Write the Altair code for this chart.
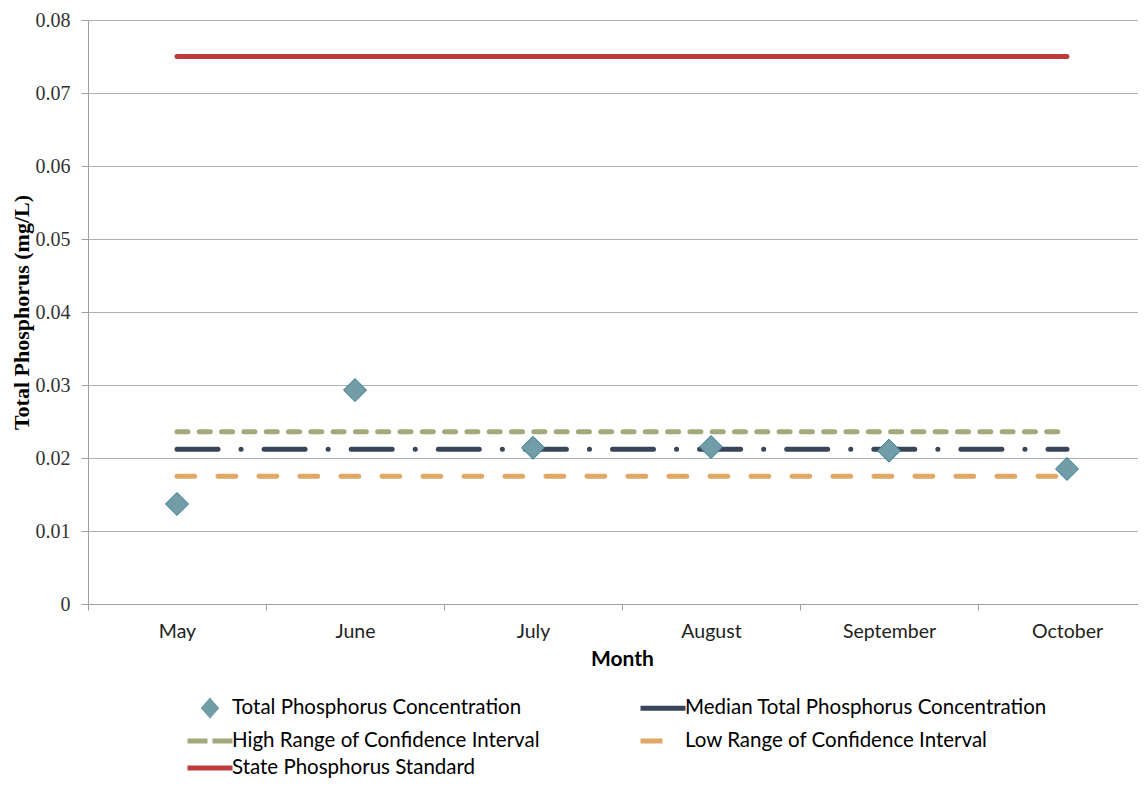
import altair as alt
import pandas as pd

# ---- data ----
months = ["May", "June", "July", "August", "September", "October"]
tp_values = [0.0137, 0.0293, 0.0214, 0.0215, 0.0210, 0.0185]
median_value = 0.0212
high_ci = 0.0236
low_ci = 0.0175
state_standard = 0.075
y_ticks = [0, 0.01, 0.02, 0.03, 0.04, 0.05, 0.06, 0.07, 0.08]

series_names = [
    "Total Phosphorus Concentration",
    "Median Total Phosphorus Concentration",
    "High Range of Confidence Interval",
    "Low Range of Confidence Interval",
    "State Phosphorus Standard",
]
series_colors = ["#729CA8", "#3A4657", "#A0AA7A", "#E0A766", "#BE3B3B"]
diamond_stroke = "#2F7D90"

line_levels = [state_standard, high_ci, low_ci, median_value]
line_series = [series_names[4], series_names[2], series_names[3], series_names[1]]
line_dashes = [[1, 0], [11, 11.3], [17.7, 23.3], [41, 23, 0.1, 23]]

rows = []
for name, level in zip(line_series, line_levels):
    for m in months:
        rows.append({"month": m, "value": level, "series": name})
lines_df = pd.DataFrame(rows)
points_df = pd.DataFrame({"month": months, "value": tp_values,
                          "series": [series_names[0]] * len(months)})


def choose(mapping, default):
    expr = default
    for k, v in mapping.items():
        expr = f"datum.value === '{k}' ? {v} : ({expr})"
    return expr


stroke_map = {series_names[0]: "'transparent'"}
for n, c in zip(series_names[1:], series_colors[1:]):
    stroke_map[n] = f"'{c}'"

diamond_path = "'M0,-0.54L0.48,0L0,0.54L-0.48,0Z'"
line_path = "'M-1.8,0L1.8,0'"
line_path_tall = "'M0,-0.54M0,0.54M-1.8,0L1.8,0'"

x_enc = alt.X(
    "month:N",
    sort=months,
    scale=alt.Scale(type="band", domain=months, paddingInner=0, paddingOuter=0,
                    range=[0, 1068]),
    axis=alt.Axis(
        title="Month", labelAngle=0, grid=False, tickBand="extent",
        tickSize=6, labelPadding=12, labelFont="Lato", labelFontSize=19.5,
        labelColor="#222222", titleFont="Lato", titleFontSize=21,
        titleFontWeight="bold", titleColor="#000000", titlePadding=8,
        domainColor="#A0A0A0", tickColor="#A0A0A0",
    ),
)
y_enc = alt.Y(
    "value:Q",
    scale=alt.Scale(domain=[0, 0.08], nice=False, zero=True),
    axis=alt.Axis(
        title="Total Phosphorus (mg/L)", values=y_ticks, format=".2~f",
        grid=True, gridColor="#B0B0B0", tickSize=7, labelPadding=11,
        labelFont="Liberation Serif", labelFontSize=20, labelColor="#333333",
        titleFont="Liberation Serif", titleFontSize=22, titleFontWeight="bold",
        titleColor="#000000", titlePadding=2,
        domainColor="#A0A0A0", tickColor="#A0A0A0",
    ),
)

color_enc = alt.Color(
    "series:N",
    scale=alt.Scale(domain=series_names, range=series_colors),
    legend=alt.Legend(
        title=None, orient="none", legendX=107, legendY=673, columns=2,
        direction="horizontal",
        columnPadding=90, rowPadding=1, symbolSize=625, symbolStrokeWidth=5,
        labelFont="Lato", labelFontSize=20.5, labelColor="#000000",
        labelOffset=7, labelLimit=0, symbolOpacity=1,
        symbolType={"expr": choose({series_names[0]: diamond_path,
                                    series_names[1]: line_path_tall}, line_path)},
        symbolFillColor={"expr": choose({series_names[0]: f"'{series_colors[0]}'"}, "'transparent'")},
        symbolStrokeColor={"expr": choose(stroke_map, "'black'")},
        symbolDash={"expr": choose({series_names[2]: "[20, 5]",
                                    series_names[3]: "[22, 200]"}, "[1, 0]")},
    ),
)

lines = alt.Chart(lines_df).mark_line(strokeWidth=5, strokeCap="round").encode(
    x=x_enc,
    y=y_enc,
    color=color_enc,
    strokeDash=alt.StrokeDash(
        "series:N",
        scale=alt.Scale(domain=line_series, range=line_dashes),
        legend=None,
    ),
)

points = alt.Chart(points_df).mark_point(
    shape="diamond", filled=True, size=530, stroke=diamond_stroke,
    strokeWidth=1, opacity=1,
).encode(x=x_enc, y=y_enc, color=color_enc)

chart = alt.layer(lines, points).properties(
    width=1050, height=584,
    autosize=alt.AutoSizeParams(type="none"),
    padding={"left": 80, "top": 12, "right": 0, "bottom": 174},
).configure_view(stroke=None)

chart.save("out.html", embed_options={"renderer": "svg", "actions": False})
